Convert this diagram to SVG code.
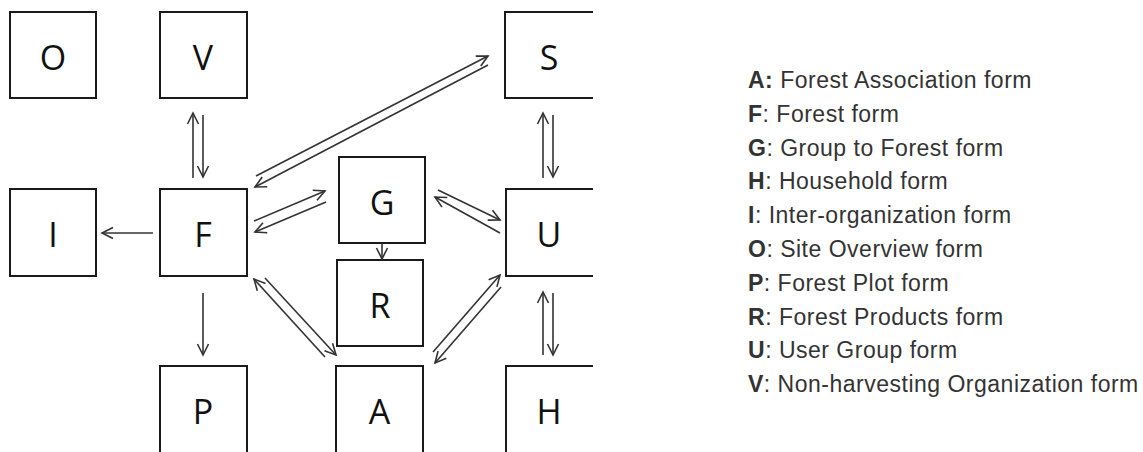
<svg xmlns="http://www.w3.org/2000/svg" width="1143" height="452" viewBox="0 0 1143 452">
<style>
.box{fill:none;stroke:#1a1a1a;stroke-width:2}
.lbl{font-family:"Open Sans","Liberation Sans",sans-serif;font-size:34px;fill:#111;text-anchor:middle}
.c{fill:none;stroke:#333;stroke-width:1.6;marker-end:url(#ah)}
.leg{font-family:"Liberation Sans",Arial,sans-serif;font-size:23px;letter-spacing:0.5px;fill:#333}
.leg tspan.b{font-weight:bold}
</style>
<defs>
<marker id="ah" markerUnits="userSpaceOnUse" viewBox="-13 -8 15 16" markerWidth="15" markerHeight="16" refX="0" refY="0" orient="auto" overflow="visible">
<path d="M-11,-5.5 L0,0 L-11,5.5" fill="none" stroke="#333" stroke-width="1.6"/>
</marker>
</defs>
<rect width="1143" height="452" fill="#fff"/>
<g id="node-O"><rect class="box" x="10" y="12" width="86" height="86"/><text class="lbl" x="53" y="70">O</text></g>
<g id="node-V"><rect class="box" x="160" y="12" width="87" height="86"/><text class="lbl" x="203" y="70">V</text></g>
<g id="node-S"><path class="box" d="M593,12 H505 V98 H593"/><text class="lbl" x="549" y="70">S</text></g>
<g id="node-I"><rect class="box" x="10" y="189" width="86" height="87"/><text class="lbl" x="53" y="247">I</text></g>
<g id="node-F"><rect class="box" x="160" y="189" width="87" height="87"/><text class="lbl" x="203" y="247">F</text></g>
<g id="node-G"><rect class="box" x="339" y="157" width="86" height="86"/><text class="lbl" x="382" y="215">G</text></g>
<g id="node-U"><path class="box" d="M593,189 H506 V276 H593"/><text class="lbl" x="549" y="247">U</text></g>
<g id="node-R"><rect class="box" x="337" y="260" width="86" height="86"/><text class="lbl" x="380" y="318">R</text></g>
<g id="node-P"><path class="box" d="M160,453 V366 H247 V453"/><text class="lbl" x="203" y="424">P</text></g>
<g id="node-A"><path class="box" d="M336,453 V366 H423 V453"/><text class="lbl" x="379.5" y="424">A</text></g>
<g id="node-H"><path class="box" d="M506,453 V366 H593"/><text class="lbl" x="549" y="424">H</text></g>
<g id="connectors">
<line class="c" x1="193" y1="178" x2="193" y2="113"/>
<line class="c" x1="203" y1="115" x2="203" y2="177"/>
<line class="c" x1="543" y1="178" x2="543" y2="113"/>
<line class="c" x1="553" y1="115" x2="553" y2="177"/>
<line class="c" x1="543" y1="355" x2="543" y2="292"/>
<line class="c" x1="553" y1="293" x2="553" y2="355"/>
<line class="c" x1="153" y1="233" x2="102" y2="233"/>
<line class="c" x1="203" y1="293" x2="203" y2="355"/>
<line class="c" x1="256" y1="176" x2="488" y2="56"/>
<line class="c" x1="488" y1="65" x2="255" y2="187"/>
<line class="c" x1="254" y1="221" x2="325" y2="191"/>
<line class="c" x1="326" y1="202" x2="255" y2="232"/>
<line class="c" x1="438" y1="190" x2="500" y2="220"/>
<line class="c" x1="500" y1="233" x2="435" y2="197"/>
<line class="c" x1="382" y1="243" x2="382" y2="259"/>
<line class="c" x1="325" y1="357" x2="254" y2="279"/>
<line class="c" x1="265" y1="278" x2="336" y2="355"/>
<line class="c" x1="433" y1="352" x2="500" y2="275"/>
<line class="c" x1="501" y1="287" x2="435" y2="363"/>
</g>
<g id="legend">
<text class="leg" x="748" y="88"><tspan class="b">A:</tspan> Forest Association form</text>
<text class="leg" x="748" y="121.8"><tspan class="b">F</tspan>: Forest form</text>
<text class="leg" x="748" y="155.6"><tspan class="b">G</tspan>: Group to Forest form</text>
<text class="leg" x="748" y="189.4"><tspan class="b">H</tspan>: Household form</text>
<text class="leg" x="748" y="223.2"><tspan class="b">I</tspan>: Inter-organization form</text>
<text class="leg" x="748" y="257"><tspan class="b">O</tspan>: Site Overview form</text>
<text class="leg" x="748" y="290.8"><tspan class="b">P</tspan>: Forest Plot form</text>
<text class="leg" x="748" y="324.6"><tspan class="b">R</tspan>: Forest Products form</text>
<text class="leg" x="748" y="358.4"><tspan class="b">U</tspan>: User Group form</text>
<text class="leg" x="748" y="392.2"><tspan class="b">V</tspan>: Non-harvesting Organization form</text>
</g>
</svg>
